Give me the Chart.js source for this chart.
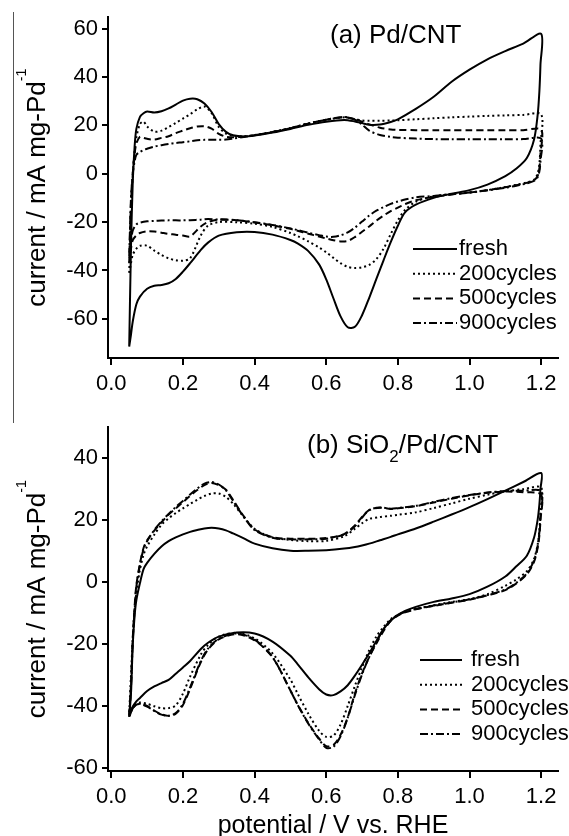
<!DOCTYPE html>
<html>
<head>
<meta charset="utf-8">
<title>CV durability</title>
<script src="https://cdn.jsdelivr.net/npm/chart.js@4.4.1/dist/chart.umd.min.js"></script>
<style>
  html, body { margin: 0; padding: 0; background: #fff; }
  #page { position: relative; width: 569px; height: 836px; overflow: hidden; }
  #page canvas { position: absolute; left: 0; }
  #cvA { top: 0; }
  #cvB { top: 410px; }
  .rule { position: absolute; left: 13px; top: 12px; width: 1px; height: 411px; background: #555; }
</style>
</head>
<body>
<div id="page">
  <canvas id="cvA" width="569" height="410"></canvas>
  <canvas id="cvB" width="569" height="426"></canvas>
  <div class="rule"></div>
</div>
<script>
// potential grid (V vs. RHE): anodic sweep 0.05 -> 1.2, cathodic sweep back to 0.05
const SWEEP_UP = [0.05, 0.055, 0.06, 0.065, 0.07, 0.08, 0.09, 0.10, 0.12, 0.14, 0.16, 0.18, 0.20, 0.22, 0.24,
  0.26, 0.28, 0.30, 0.32, 0.34, 0.37, 0.40, 0.45, 0.50, 0.55, 0.60, 0.65, 0.68, 0.70, 0.72, 0.75, 0.78, 0.80,
  0.85, 0.90, 0.95, 1.00, 1.05, 1.10, 1.15, 1.20];
const SWEEP_DOWN = [1.198, 1.195, 1.19, 1.18, 1.16, 1.13, 1.10, 1.05, 1.00, 0.95, 0.90, 0.85, 0.82, 0.80, 0.78,
  0.76, 0.74, 0.72, 0.70, 0.68, 0.66, 0.64, 0.62, 0.60, 0.58, 0.55, 0.52, 0.50, 0.45, 0.40, 0.35, 0.30, 0.27,
  0.25, 0.22, 0.20, 0.18, 0.16, 0.14, 0.12, 0.10, 0.08, 0.07, 0.06, 0.055, 0.05];

const SERIES_NAMES = ['fresh', '200cycles', '500cycles', '900cycles'];
const X_TICKS = [0, 0.2, 0.4, 0.6, 0.8, 1.0, 1.2];
const Y_TICKS_A = [-60, -40, -20, 0, 20, 40, 60];
const Y_TICKS_B = [-60, -40, -20, 0, 20, 40];

// (a) Pd/CNT, current in mA mg-Pd^-1
const pdFreshUp = [-71.5, -30, -3, 11, 18.5, 23.5, 25, 25.7, 25.3, 25.8, 27, 28.6, 30.2, 31, 30.8,
  29, 25.5, 20.5, 17.3, 15.9, 15.4, 15.8, 17, 18.5, 20.2, 21.5, 22.2, 21.6, 20.9, 20.2, 20.3, 21.4, 22.5,
  26.8, 31.8, 38, 43, 47.3, 50.7, 53.8, 57.8];
const pdFreshDown = [45, 34, 24, 14, 6.5, 2, -1, -4.5, -6.8, -8.3, -10, -12.8, -16, -21.5, -28.3,
  -35.8, -43.5, -51.3, -58.5, -63.3, -63.5, -59, -51.5, -43.7, -37.5, -32, -28.8, -27.4, -25.2, -24.1,
  -24.2, -25.6, -28.5, -31.5, -37, -40.5, -43.5, -45.3, -46, -46.3, -47.6, -50.8, -54, -61, -66.5, -71.5];
const pd200Up = [-41, -15, 0, 9, 15, 20.5, 21.5, 19.5, 17.4, 17.8, 19.3, 21, 22.8, 24.6, 26.6,
  27.8, 25, 19.3, 16.6, 15.7, 15.5, 16, 17.3, 18.9, 20.8, 22.3, 23.3, 22.6, 22, 21.9, 21.9, 22, 22.1,
  22.5, 22.9, 23.3, 23.6, 23.9, 24.1, 24.3, 24.5];
const pd200Down = [12, 4, 0, -2.5, -3.6, -4.6, -5.5, -6.8, -7.8, -8.4, -9.3, -11.6, -15, -19.3, -25,
  -31, -35.3, -37.7, -38.7, -39, -38.5, -37, -34.8, -32.5, -30.5, -28, -25.8, -24.5, -22, -20.7,
  -20.1, -20, -21.5, -25.5, -35, -36, -35.8, -35, -33.6, -31.8, -29.8, -29.8, -31, -33.5, -37, -41];
const pd500Up = [-37, -12, 0, 8, 12.5, 15.3, 14.8, 14.4, 14.1, 14.8, 15.5, 16.8, 17.8, 18.8, 19.5,
  19.6, 18.6, 16.5, 15.3, 15.1, 15.3, 15.9, 17.2, 18.8, 20.7, 22.3, 23.4, 22.5, 21.5, 20.4, 19, 18.3, 18.1,
  18, 18, 18, 18, 18, 18, 18, 18.2];
const pd500Down = [8, 2, -1, -2.7, -3.8, -4.8, -5.6, -6.8, -7.8, -8.6, -9.6, -11, -12.6, -14, -15.5,
  -17.3, -19.4, -21.8, -24, -26.2, -27.8, -28, -27.5, -26.8, -26, -24.8, -23.6, -22.8, -21.3, -20.2,
  -19.2, -18.9, -20, -21.8, -25.9, -25.6, -25.2, -24.9, -24.4, -23.9, -23.8, -24.5, -25.5, -27.5, -31, -37];
const pd900Up = [-34, -10, 0, 5, 7.8, 9, 9.8, 10.3, 11.2, 11.8, 12.3, 12.7, 13, 13.4, 13.8,
  14, 14, 14, 14.1, 14.5, 15.2, 15.9, 17.2, 18.8, 20.7, 22.3, 23.4, 22.3, 20.3, 17.8, 16, 15.2, 14.9,
  14.5, 14.3, 14.2, 14.2, 14.2, 14.2, 14.3, 14.5];
const pd900Down = [5, 1, -1.5, -3, -4, -5, -5.8, -6.9, -7.8, -8.5, -9.2, -9.8, -10.7, -11.5, -12.5,
  -13.8, -15.3, -17.3, -19.8, -22.3, -24.3, -25.5, -26.1, -26, -25.4, -24.4, -23.3, -22.6, -21.2, -20.1,
  -19.2, -19, -18.7, -19, -19.2, -19.3, -19.3, -19.3, -19.4, -19.5, -19.7, -20.3, -21, -23.5, -28, -34];

// (b) SiO2/Pd/CNT
const siFreshUp = [-43.5, -36, -20, -11, -5.8, -0.3, 4.2, 6.2, 9.1, 11.5, 13.2, 14.4, 15.4, 16.2, 16.8,
  17.3, 17.5, 17.3, 16.7, 15.7, 14.1, 12.4, 10.9, 10.1, 10.1, 10.3, 10.8, 11.3, 11.8, 12.4, 13.5, 14.6, 15.4,
  17.3, 19.5, 21.8, 24.2, 26.8, 29.5, 32.3, 35.2];
const siFreshDown = [30, 25, 20, 14.3, 8.5, 5, 1.8, -1.5, -3.9, -5.3, -6.4, -8, -9.3, -10.6, -12.5,
  -15.2, -19, -23, -26.7, -30.2, -33.3, -35.3, -36.5, -36.3, -34.6, -30.8, -26.5, -23.8, -19.2, -16.6,
  -16.3, -17.6, -19.6, -21.6, -25.5, -27.6, -29.6, -31.6, -32.6, -33.7, -35.2, -37.4, -38.5, -40.2, -41.8, -43.5];
const si200Up = [-42, -30, -18, -9, -3.5, 4, 8.8, 11.5, 15.3, 18.5, 20.6, 22.3, 23.8, 25.2, 26.6,
  27.8, 28.6, 28.6, 27.5, 25.3, 21, 17.2, 14.4, 13.6, 13.2, 13.3, 14.8, 17.2, 19, 20.4, 21, 21.4, 21.7,
  22.5, 23.9, 25.4, 26.9, 28.2, 29.3, 30, 30.5];
const si200Down = [23, 17, 12, 7.5, 3.5, 0.8, -1.2, -3.9, -5.5, -6.4, -7.5, -8.6, -9.6, -10.6, -12,
  -14.5, -17.6, -22, -27.5, -33.5, -40, -46, -49.6, -50, -48, -42.5, -36, -31.5, -23, -18.2,
  -16.4, -17.6, -20.3, -23.4, -30.5, -36, -39.8, -40.7, -40.7, -40.1, -39.3, -38.9, -39.2, -40.5, -41.3, -42];
const si500Up = [-43, -33, -18, -8, -1, 6, 11, 13.5, 16.6, 19.3, 21.8, 23.8, 25.8, 27.8, 29.7,
  31.3, 32, 31.3, 29.8, 26.5, 21.2, 17, 14.5, 14, 14, 14.2, 15.5, 18.3, 21, 23.2, 24, 23.6, 23.8,
  24.5, 25.7, 26.9, 28, 28.8, 29.2, 29, 28.2];
const si500Down = [20, 15, 11, 6.5, 2.5, -0.5, -2.6, -4.3, -5.7, -6.7, -7.7, -8.8, -9.8, -10.8, -12.5,
  -15.8, -19.8, -24.2, -29.5, -36, -43.7, -49.3, -52.6, -53, -50.5, -45.5, -39.5, -35, -24.3, -18.8,
  -16.8, -18.5, -21.8, -25.8, -34.5, -39.7, -42.5, -43.2, -42.7, -41.5, -40, -39.4, -39.6, -40.8, -42, -43];
const si900Up = [-43.5, -34, -19, -9, -1.5, 5.5, 10.6, 13.2, 16.8, 19.6, 22, 24.2, 26.2, 28.3, 30.2,
  31.8, 32.3, 31.5, 29.6, 26.2, 21, 16.8, 14.3, 13.8, 13.8, 14, 15.4, 18, 20.8, 23.3, 24.1, 23.7, 23.9,
  24.6, 25.9, 27.1, 28.1, 28.9, 29.4, 29.5, 29.3];
const si900Down = [21, 16, 11.5, 7, 2.8, -0.3, -2.4, -4.2, -5.6, -6.6, -7.6, -8.7, -9.7, -10.7, -12.3,
  -15.2, -19.4, -24.2, -29.8, -36.5, -43.8, -49.8, -53.2, -53.5, -50.8, -45.7, -39.6, -35, -24.2, -18.6,
  -16.6, -18.3, -21.5, -25.5, -34, -39.3, -42.3, -43.2, -42.8, -41.6, -40.2, -39.3, -39.5, -40.7, -42.2, -43.5];

(function () {
  'use strict';

  const FONT = "'Liberation Sans', Arial, Helvetica, sans-serif";
  const DASHES = [[], [2, 3], [7, 4], [8, 3, 2, 3]];
  const Y_TITLE = [{ t: 'current / mA mg-Pd' }, { t: '-1', sup: true }];

  Chart.defaults.font.family = FONT;
  Chart.defaults.color = '#000';

  // one closed CV loop: anodic branch followed by the cathodic one
  function loop(up, down) {
    const pts = SWEEP_UP.map((v, i) => ({ x: v, y: up[i] }));
    return pts.concat(SWEEP_DOWN.map((v, i) => ({ x: v, y: down[i] })));
  }

  function buildDatasets(series) {
    return series.map((s, i) => ({
      label: SERIES_NAMES[i],
      data: loop(s[0], s[1]),
      showLine: true,
      fill: false,
      borderColor: '#000',
      borderWidth: 2,
      borderDash: DASHES[i],
      pointRadius: 0,
      tension: 0.3
    }));
  }

  // text with sub/superscript pieces, left aligned on an alphabetic baseline
  function drawRich(ctx, parts, x, y, size, dryRun) {
    let cx = x;
    parts.forEach(p => {
      const s = p.sub ? size * 0.65 : p.sup ? size * 0.55 : size;
      const dy = p.sub ? size * 0.35 : p.sup ? -size * 0.75 : 0;
      ctx.font = s + 'px ' + FONT;
      if (!dryRun) ctx.fillText(p.t, cx, y + dy);
      cx += ctx.measureText(p.t).width;
    });
    return cx - x;
  }

  const panelDecor = {
    id: 'panelDecor',
    afterDraw(chart, args, opts) {
      const ctx = chart.ctx, area = chart.chartArea;
      ctx.save();
      ctx.fillStyle = '#000';
      ctx.textAlign = 'left';
      ctx.textBaseline = 'alphabetic';

      drawRich(ctx, opts.label, opts.labelX, opts.labelY, 26);

      // rotated y axis title
      ctx.save();
      ctx.translate(45, (area.top + area.bottom) / 2);
      ctx.rotate(-Math.PI / 2);
      const w = drawRich(ctx, Y_TITLE, 0, 0, 26, true);
      drawRich(ctx, Y_TITLE, -w / 2, 0, 26);
      ctx.restore();

      if (opts.xTitle) {
        ctx.font = '25px ' + FONT;
        ctx.textAlign = 'center';
        ctx.fillText(opts.xTitle, (area.left + area.right) / 2, opts.xTitleY);
        ctx.textAlign = 'left';
      }

      // legend
      chart.data.datasets.forEach((ds, i) => {
        const y = opts.legendTop + i * 24.7;
        ctx.beginPath();
        ctx.setLineDash(ds.borderDash);
        ctx.lineWidth = 2;
        ctx.strokeStyle = '#000';
        ctx.moveTo(opts.legendX, y);
        ctx.lineTo(opts.legendX + opts.legendLen, y);
        ctx.stroke();
        ctx.setLineDash([]);
        ctx.font = '22px ' + FONT;
        ctx.textBaseline = 'middle';
        ctx.fillText(ds.label, opts.legendTextX, y);
        ctx.textBaseline = 'alphabetic';
      });
      ctx.restore();
    }
  };

  function buildScales(yMin, yMax, yTicks, xAxisHeight) {
    return {
      x: {
        type: 'linear', min: -0.0092, max: 1.247,
        afterBuildTicks: s => { s.ticks = X_TICKS.map(v => ({ value: v })); },
        afterFit: s => { s.height = xAxisHeight; },
        grid: { drawOnChartArea: false, tickLength: 7, color: '#000', lineWidth: 2 },
        border: { display: true, color: '#000', width: 2 },
        ticks: { font: { size: 22 }, padding: 6, maxRotation: 0, callback: v => Number(v).toFixed(1) }
      },
      y: {
        type: 'linear', min: yMin, max: yMax,
        afterBuildTicks: s => { s.ticks = yTicks.map(v => ({ value: v })); },
        afterFit: s => { s.width = 108; },
        grid: { drawOnChartArea: false, tickLength: 6, color: '#000', lineWidth: 2 },
        border: { display: true, color: '#000', width: 2 },
        ticks: { font: { size: 22 }, padding: 4, callback: v => String(v) }
      }
    };
  }

  function makeChart(id, series, cfg) {
    return new Chart(document.getElementById(id), {
      type: 'scatter',
      data: { datasets: buildDatasets(series) },
      options: {
        responsive: false,
        animation: false,
        layout: { padding: { left: 0, right: 11, top: cfg.top, bottom: 0 } },
        scales: buildScales(cfg.yMin, cfg.yMax, cfg.yTicks, cfg.xAxisHeight),
        plugins: { legend: { display: false }, tooltip: { enabled: false }, panelDecor: cfg.decor }
      },
      plugins: [panelDecor]
    });
  }

  makeChart('cvA', [[pdFreshUp, pdFreshDown], [pd200Up, pd200Down], [pd500Up, pd500Down], [pd900Up, pd900Down]], {
    top: 13, yMin: -76.2, yMax: 64.7, yTicks: Y_TICKS_A, xAxisHeight: 52,
    decor: {
      label: [{ t: '(a) Pd/CNT' }], labelX: 330, labelY: 43,
      legendTop: 249, legendX: 413, legendLen: 44, legendTextX: 459
    }
  });

  makeChart('cvB', [[siFreshUp, siFreshDown], [si200Up, si200Down], [si500Up, si500Down], [si900Up, si900Down]], {
    top: 16, yMin: -61, yMax: 50, yTicks: Y_TICKS_B, xAxisHeight: 65,
    decor: {
      label: [{ t: '(b) SiO' }, { t: '2', sub: true }, { t: '/Pd/CNT' }], labelX: 307, labelY: 43,
      legendTop: 250, legendX: 420, legendLen: 42, legendTextX: 471,
      xTitle: 'potential / V vs. RHE', xTitleY: 423
    }
  });
})();
</script>
</body>
</html>
